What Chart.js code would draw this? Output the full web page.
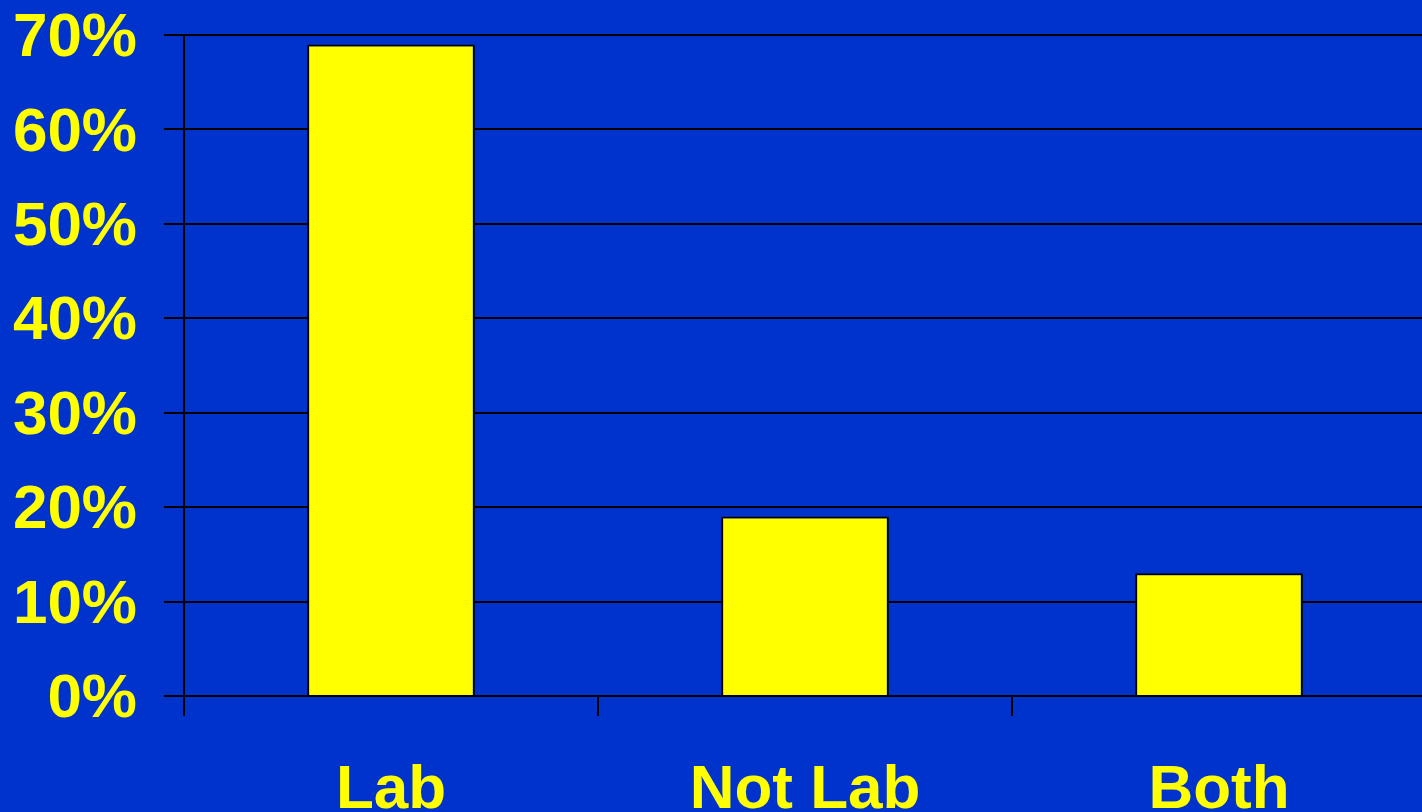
<!DOCTYPE html>
<html>
<head>
<meta charset="utf-8">
<script src="https://cdn.jsdelivr.net/npm/chart.js@4"></script>
<style>
  html, body { margin: 0; padding: 0; background: #0033cc; overflow: hidden; }
  #wrap { width: 1430px; height: 812px; position: relative; }
</style>
</head>
<body>
<div id="wrap"><canvas id="barChart"></canvas></div>
<script>
// categories and shares (percent)
const categories = ['Lab', 'Not Lab', 'Both'];
const shares = [69, 19, 13];
const yTicks = [0, 10, 20, 30, 40, 50, 60, 70];

const yellow = '#ffff00';
const labelFont = { family: '"Liberation Sans", Arial, sans-serif', size: 62, weight: 'bold', lineHeight: 1.1 };

const ctx = document.getElementById('barChart').getContext('2d');
const chart = new Chart(ctx, {
    type: 'bar',
    data: {
        labels: categories,
        datasets: [{
            data: shares,
            backgroundColor: yellow,
            borderColor: '#000000',
            borderWidth: 2,
            categoryPercentage: 1,
            barPercentage: 0.405
        }]
    },
    options: {
        responsive: true,
        maintainAspectRatio: false,
        animation: false,
        layout: { padding: { top: 35, right: 4, left: 0, bottom: 0 } },
        plugins: { legend: { display: false }, tooltip: { enabled: false } },
        scales: {
            x: {
                grid: { offset: true, drawOnChartArea: false, color: '#000000', lineWidth: 2, tickLength: 20 },
                border: { color: '#000000', width: 2 },
                ticks: { color: yellow, font: labelFont, padding: 41, maxRotation: 0 },
                afterFit: scale => {
                    scale.height = 116;
                    scale.paddingLeft = 0;
                    scale.paddingRight = 0;
                }
            },
            y: {
                min: 0,
                max: 70,
                afterBuildTicks: scale => { scale.ticks = yTicks.map(v => ({ value: v })); },
                grid: { color: '#000000', lineWidth: 2, tickLength: 20 },
                border: { color: '#000000', width: 2 },
                ticks: { color: yellow, font: labelFont, padding: 27, labelOffset: 4, callback: v => v + '%' },
                afterFit: scale => {
                    scale.width = 184;
                    scale.paddingTop = 0;
                    scale.paddingBottom = 0;
                }
            }
        }
    }
});
</script>
</body>
</html>
